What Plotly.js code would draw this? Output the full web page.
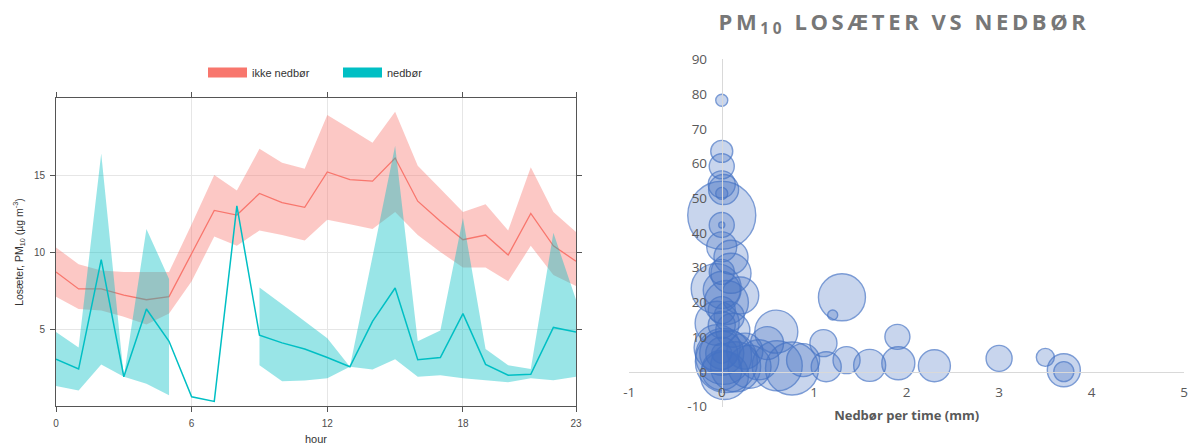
<!DOCTYPE html>
<html><head><meta charset="utf-8">
<script src="https://cdn.plot.ly/plotly-3.0.1.min.js"></script>
<style>
html,body{margin:0;padding:0;background:#fff;}
#chart{width:1191px;height:446px;}
.gtitle{letter-spacing:3.6px;}
</style>
</head><body><div id="chart"></div>
<script>
// ---- Left panel: hourly PM10 at Losæter (mean and 95% CI) ----
const hours = [0,1,2,3,4,5,6,7,8,9,10,11,12,13,14,15,16,17,18,19,20,21,22,23];
const ikkeMean = [8.7,7.6,7.6,7.2,6.9,7.1,9.9,12.7,12.4,13.8,13.2,12.9,15.2,14.7,14.6,16.1,13.3,12.0,10.8,11.1,9.8,12.5,10.4,9.4];
const ikkeHigh = [10.3,9.2,8.8,8.7,8.7,8.7,11.8,15.0,14.0,16.7,15.8,15.4,18.9,18.0,17.1,19.1,15.6,14.1,12.6,13.1,11.4,15.5,12.6,11.3];
const ikkeLow  = [7.1,6.3,6.2,5.8,5.3,6.0,8.1,11.0,10.4,11.4,11.1,10.75,12.1,11.8,11.5,12.6,11.1,10.0,9.0,9.0,8.1,10.4,8.5,7.8];
const nedMean  = [3.04,2.4,9.5,1.9,6.3,4.2,0.6,0.3,13.0,4.6,4.1,3.7,3.15,2.55,5.5,7.66,3.0,3.15,6.0,2.7,2.0,2.06,5.1,4.8];
const nedHigh  = [4.8,3.8,16.4,1.9,11.5,8.25,null,null,null,7.7,6.6,5.5,4.4,2.55,9.7,16.9,4.2,4.9,12.2,3.7,2.65,2.4,11.25,6.9];
const nedLow   = [1.3,1.0,2.7,1.9,1.45,0.7,null,null,null,2.65,1.6,1.65,1.8,2.55,2.37,3.04,1.9,2.0,1.8,1.67,1.55,1.8,1.67,1.9];
const hourTicks = [0,6,12,18,23];
const pmTicks = [5,10,15];
const seriesNames = ['ikke nedbør','nedbør'];

// ---- Right panel: PM10 Losæter vs precipitation (bubbles) ----
const nedborMm = [0,0,0,0,0.02,0,0,0,0,0,0.1,0,0.1,-0.06,0,0.2,0.05,0,-0.05,0,0.12,0.08,-0.05,0,0,0,0.02,0.05,0,0.03,0.15,0.3,0.25,0.4,0.49,0.59,0.6,0.76,0.88,1.1,1.13,1.35,1.6,1.3,1.2,1.9,1.91,2.3,3.0,3.5,3.7,3.7];
const pm10Los  = [78.2,63.5,59.2,54,52.5,51.4,45.1,42.3,42.3,36,33,28.8,28.4,24,23.6,22,20,17.8,14,13.5,12,16,7,5.4,5.4,5.4,4.5,3,0.5,-1,1.5,1.5,6,3.5,8.3,11.6,1.8,1.0,3.4,8.3,1.5,3.4,1.9,21.5,16.4,10.1,2.5,1.8,3.9,4.2,0.5,0.1];
const bobleVerdi = [12,22,25,27,30,12,68,25,6,30,34,25,40,50,37,37,44,27,44,27,34,30,46,20,32,44,56,62,40,48,50,43,36,40,33,43,50,53,33,27,30,27,32,47,10,25,33,32,26,18,33,20];
const mmTicks = [-1,0,1,2,3,4,5];
const mmTickText = ['-1','0','1','2','3','4','5'];
const pmTicks2 = [-10,0,10,20,30,40,50,60,70,80,90];
const pmTickText2 = ['-10','0','10','20','30','40','50','60','70','80','90'];

const W = 1191, H = 446;
const RED = '#F8766D', TEAL = '#00BFC4';
const leftFont = 'Liberation Sans, Arial, sans-serif';
const rightFont = 'Open Sans, Liberation Sans, sans-serif';

function band(lo, hi) {
  // closed polygon(s): upper forward, lower backward; nulls split segments
  const xs = [], ys = [];
  let seg = [];
  const flush = () => {
    if (seg.length) {
      seg.forEach(i => { xs.push(hours[i]); ys.push(hi[i]); });
      seg.slice().reverse().forEach(i => { xs.push(hours[i]); ys.push(lo[i]); });
      xs.push(null); ys.push(null);
    }
    seg = [];
  };
  hours.forEach((h, i) => { if (hi[i] === null || lo[i] === null) flush(); else seg.push(i); });
  flush();
  return {xs, ys};
}
const redBand = band(ikkeLow, ikkeHigh);
const tealBand = band(nedLow, nedHigh);

const traces = [
  {type:'scatter', x:redBand.xs, y:redBand.ys, mode:'none', fill:'toself', fillcolor:'rgba(248,118,109,0.4)', xaxis:'x', yaxis:'y', showlegend:false, hoverinfo:'skip'},
  {type:'scatter', x:hours, y:ikkeMean, mode:'lines', line:{color:RED, width:1.3}, xaxis:'x', yaxis:'y', showlegend:false},
  {type:'scatter', x:tealBand.xs, y:tealBand.ys, mode:'none', fill:'toself', fillcolor:'rgba(0,191,196,0.4)', xaxis:'x', yaxis:'y', showlegend:false, hoverinfo:'skip'},
  {type:'scatter', x:hours, y:nedMean, mode:'lines', line:{color:TEAL, width:1.5}, xaxis:'x', yaxis:'y', showlegend:false},
  // legend keys
  {type:'scatter', x:[null], y:[null], mode:'lines', line:{color:RED, width:10}, name:seriesNames[0], xaxis:'x', yaxis:'y'},
  {type:'scatter', x:[null], y:[null], mode:'lines', line:{color:TEAL, width:10}, name:seriesNames[1], xaxis:'x', yaxis:'y'},
  // bubbles
  {type:'scatter', mode:'markers', x:nedborMm, y:pm10Los, xaxis:'x2', yaxis:'y2', showlegend:false, cliponaxis:false,
   marker:{size:bobleVerdi, sizemode:'diameter', sizeref:1, color:'rgba(68,114,196,0.42)', line:{color:'#4472C4', width:1.4}}}
];

const layout = {
  width:W, height:H,
  margin:{l:0, r:0, t:0, b:0},
  paper_bgcolor:'#ffffff', plot_bgcolor:'rgba(0,0,0,0)',
  showlegend:true,
  legend:{orientation:'h', x:203/W, y:1-58/H, xanchor:'left', yanchor:'top',
          font:{family:leftFont, size:11, color:'#333333'}, itemwidth:39, entrywidth:81, entrywidthmode:'pixels',
          bgcolor:'rgba(0,0,0,0)', itemclick:false},
  title:{text:'<b>PM<sub>10</sub> LOSÆTER VS NEDBØR</b>', x:904/W, xanchor:'center', y:1-22/H, yanchor:'middle',
         font:{family:rightFont, size:22, color:'#777777'}},
  xaxis:{domain:[56/W, 576/W], range:[0,23], anchor:'y', tickvals:hourTicks, ticktext:hourTicks.map(String),
         ticks:'outside', ticklen:5, tickcolor:'#555', showline:true, linecolor:'#555', linewidth:1, mirror:'ticks',
         showgrid:true, gridcolor:'#e6e6e6', zeroline:false, ticklabelstandoff:3,
         tickfont:{family:leftFont, size:10, color:'#4d4d4d'},
         title:{text:'hour', font:{family:leftFont, size:11, color:'#333'}, standoff:7}},
  yaxis:{domain:[1-406/H, 1-98/H], range:[0,20], anchor:'x', tickvals:pmTicks,
         ticks:'outside', ticklen:5, tickcolor:'#555', showline:true, linecolor:'#555', linewidth:1, mirror:'ticks',
         showgrid:true, gridcolor:'#e6e6e6', zeroline:false, ticklabelstandoff:3,
         tickfont:{family:leftFont, size:10, color:'#4d4d4d'},
         title:{text:'Losæter, PM<sub>10</sub> (µg m<sup>-3</sup>)', font:{family:leftFont, size:10.5, color:'#333'}, standoff:8}},
  xaxis2:{domain:[629.3/W, 1184/W], range:[-1,5], anchor:'free', position:1-371.9/H, tickvals:mmTicks, ticktext:mmTickText,
          showline:true, linecolor:'#d9d9d9', linewidth:1.3, ticks:'', showgrid:false, zeroline:false,
          ticklabelstandoff:8, tickfont:{family:rightFont, size:13.5, color:'#595959'},
          title:{text:'<b>Nedbør per time (mm)</b>', font:{family:rightFont, size:13, color:'#595959'}, standoff:10}},
  yaxis2:{domain:[1-406.7/H, 1-59.3/H], range:[-10,90], anchor:'free', position:721.8/W, tickvals:pmTicks2, ticktext:pmTickText2,
          showline:true, linecolor:'#d9d9d9', linewidth:1.3, ticks:'', showgrid:false, zeroline:false,
          ticklabelstandoff:12, tickfont:{family:rightFont, size:13.5, color:'#595959'}}
};

Plotly.newPlot('chart', traces, layout, {staticPlot:true, displayModeBar:false});
</script>
</body></html>
